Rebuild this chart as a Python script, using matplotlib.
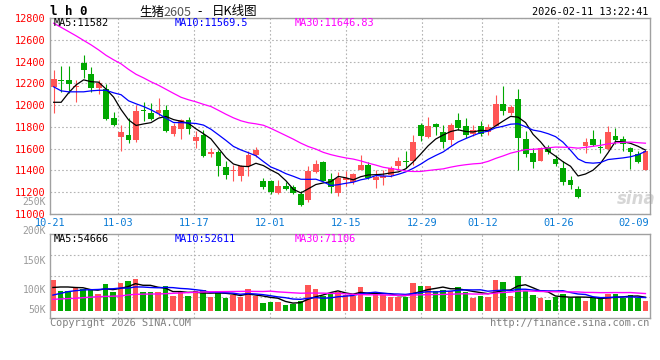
import numpy as np
import pandas as pd
import matplotlib
matplotlib.use("Agg")
import matplotlib.pyplot as plt

# ---- values (生猪2605, daily) ----
date_idx = [0, 9, 19, 29, 39, 49, 57, 67, 77]
date_labels = ["10-21", "11-03", "11-17", "12-01", "12-15", "12-29", "01-12", "01-26", "02-09"]

opens = [12165, 12232, 12232, 12165, 12391, 12287, 12156, 12147, 11886, 11703,
         11730, 11682, 11952, 11927, 11932, 11957, 11734, 11780, 11865, 11675,
         11730, 11555, 11565, 11431, 11396, 11351, 11437, 11538, 11299, 11306,
         11197, 11260, 11248, 11186, 11128, 11382, 11473, 11321, 11195, 11308,
         11296, 11406, 11452, 11308, 11327, 11361, 11443, 11484, 11483, 11813,
         11705, 11822, 11749, 11682, 11865, 11804, 11732, 11812, 11755, 11810,
         12012, 11932, 12058, 11691, 11560, 11483, 11615, 11507, 11427, 11308,
         11228, 11629, 11689, 11616, 11596, 11718, 11691, 11608, 11553, 11407]
highs = [12324, 12363, 12363, 12232, 12461, 12354, 12232, 12195, 11939, 11819,
         11883, 12003, 12030, 12021, 12061, 12003, 11833, 11874, 11895, 11764,
         11773, 11605, 11590, 11489, 11452, 11452, 11574, 11611, 11330, 11315,
         11310, 11290, 11269, 11214, 11443, 11498, 11483, 11376, 11382, 11395,
         11372, 11544, 11480, 11406, 11406, 11443, 11528, 11574, 11727, 11840,
         11895, 11840, 11819, 11840, 11929, 11881, 11815, 11856, 11826, 12094,
         12171, 12003, 12150, 11764, 11605, 11617, 11636, 11544, 11489, 11345,
         11260, 11697, 11767, 11688, 11810, 11789, 11712, 11613, 11583, 11583]
lows = [11932, 12125, 12110, 12024, 12253, 12116, 12101, 11859, 11810, 11583,
        11651, 11657, 11856, 11859, 11902, 11749, 11718, 11691, 11732, 11604,
        11521, 11523, 11351, 11324, 11299, 11299, 11351, 11526, 11229, 11183,
        11181, 11217, 11183, 11076, 11110, 11376, 11299, 11195, 11168, 11260,
        11273, 11400, 11324, 11237, 11269, 11339, 11406, 11422, 11452, 11666,
        11697, 11728, 11605, 11636, 11767, 11700, 11712, 11712, 11727, 11804,
        11911, 11911, 11400, 11526, 11425, 11483, 11549, 11437, 11269, 11232,
        11147, 11560, 11627, 11560, 11590, 11645, 11583, 11416, 11471, 11407]
closes = [12241, 12223, 12195, 12177, 12324, 12156, 12202, 11874, 11813, 11749,
          11682, 11948, 11944, 11872, 11957, 11758, 11804, 11865, 11780, 11703,
          11535, 11565, 11437, 11354, 11404, 11437, 11544, 11590, 11248, 11202,
          11260, 11229, 11193, 11085, 11391, 11455, 11303, 11250, 11327, 11327,
          11363, 11446, 11330, 11339, 11351, 11422, 11489, 11473, 11657, 11712,
          11804, 11796, 11657, 11819, 11789, 11728, 11773, 11732, 11801, 12012,
          11950, 11987, 11697, 11549, 11476, 11605, 11567, 11461, 11290, 11269,
          11159, 11657, 11636, 11607, 11749, 11682, 11642, 11565, 11473, 11574]
volumes = [125900, 80800, 80800, 95900, 87700, 87700, 68500, 109500, 77900, 114800,
           121800, 130000, 76700, 76700, 76700, 101300, 60300, 76700, 60300, 80800,
           84900, 57400, 80800, 53300, 64400, 54900, 89000, 60300, 32800, 36900,
           36900, 23400, 26200, 41000, 105400, 89000, 60300, 73800, 77900, 64400,
           61500, 98400, 57400, 71300, 64400, 57400, 57400, 57400, 114800, 101300,
           101300, 82000, 84900, 80800, 98400, 77900, 53300, 61500, 57400, 125900,
           118900, 61500, 143500, 82000, 64400, 53300, 43900, 57400, 68500, 53300,
           57400, 41000, 50800, 46700, 67200, 68500, 50800, 64400, 50800, 41000]

# moving-average values for the first bars (they use days before the window)
ma5_head = [12026, 12026, 12113, 12186]
ma10_head = [12168, 12131, 12122, 12122, 12122, 12131, 12136, 12136, 12113]
ma30_head = [12752, 12714, 12675, 12636, 12594, 12553, 12507, 12457, 12416, 12379,
             12328, 12283, 12250, 12214, 12182, 12145, 12108, 12072, 12049, 12030,
             12007, 11987, 11952, 11916, 11883, 11856, 11838, 11828, 11815]
vma5_head = [95100, 97200, 97200, 95100]
vma10_head = [64000, 71000, 78000, 82000, 85000, 86000, 87000, 89000, 90000]
vma30_head = [46700, 48000, 49600, 50800, 53300, 55400, 57400, 58600, 59500, 60300,
              64400, 67200, 67700, 68500, 68500, 69700, 71300, 72600, 74200, 75400,
              76700, 77500, 77900, 78300, 78700, 79100, 79500, 79100, 78700]

price_ma_text = ["MA5:11582", "MA10:11569.5", "MA30:11646.83"]
vol_ma_text = ["MA5:54666", "MA10:52611", "MA30:71106"]
price_ticks = list(range(11000, 12801, 200))
vol_axis_labels = ["250K", "200K", "150K", "100K", "50K"]

# ---- style ----
W, H = 660, 360
MONO = "DejaVu Sans Mono"
CJK = ["Noto Sans CJK SC", "DejaVu Sans"]
FS = 7.4
RED = "#ff5555"
GREEN = "#00a800"
MA_COLORS = ["#000000", "#0000ff", "#ff00ff"]
GRID = dict(color="#b4b4b4", linestyle=(0, (1.5, 2)), linewidth=0.8)
BAR_W = 0.78

plt.rcParams["font.family"] = [MONO]


def fx(px):
    return px / W


def fy(py):
    return 1 - py / H


def moving_avg(values, n, head):
    s = pd.Series(values, dtype=float).rolling(n).mean()
    s.iloc[:len(head)] = head
    return s.values


n = len(closes)
x = np.arange(n)
xc = x + BAR_W / 2
o = np.array(opens, float)
c = np.array(closes, float)
colors = [RED if cc >= oo else GREEN for oo, cc in zip(o, c)]

ma_price = [moving_avg(closes, 5, ma5_head),
            moving_avg(closes, 10, ma10_head),
            moving_avg(closes, 30, ma30_head)]
ma_vol = [moving_avg(volumes, 5, vma5_head),
          moving_avg(volumes, 10, vma10_head),
          moving_avg(volumes, 30, vma30_head)]

# gridline / label positions follow the chart's own date spacing
tick_x = np.array(date_idx) * n / (n - 1) - 0.1

fig = plt.figure(figsize=(W / 100, H / 100), dpi=100)
fig.patch.set_facecolor("white")

ax_p = fig.add_axes([fx(50), fy(214), 600 / W, 196 / H])
ax_v = fig.add_axes([fx(50), fy(317.7), 600 / W, 83.4 / H])

# ---- price panel ----
ax_p.set_xlim(0, n)
ax_p.set_ylim(11000, 12800)
ax_p.set_axisbelow(True)
ax_p.set_yticks(price_ticks)
ax_p.grid(axis="y", **GRID)
for t in tick_x[1:-1]:
    ax_p.axvline(t, zorder=0.5, **GRID)

ax_p.text((636 - 50) / 600, (214 - 199) / 196, "sina", transform=ax_p.transAxes,
          fontsize=12, fontstyle="italic", fontweight="bold", color="#d6d6d6",
          family="DejaVu Sans", ha="center", va="center", zorder=0.6)

ax_p.vlines(xc, lows, highs, colors=colors, linewidth=0.8, zorder=2)
body_h = np.maximum(np.abs(c - o), 9)
body_b = np.minimum(o, c) - (body_h - np.abs(c - o)) / 2
ax_p.bar(x, body_h, bottom=body_b, width=BAR_W, align="edge",
         color=colors, linewidth=0, zorder=3)
for vals, col in zip(ma_price, MA_COLORS):
    ax_p.plot(xc, vals, color=col, linewidth=0.9, zorder=4)

ax_p.set_xticks(tick_x)
ax_p.set_xticklabels(date_labels)
ax_p.tick_params(axis="x", length=0, pad=2.8, labelsize=FS, labelcolor="#0a7bd6")
ax_p.tick_params(axis="y", length=0, pad=3, labelsize=FS, labelcolor="#ff0000")

# ---- volume panel ----
ax_v.set_xlim(0, n)
ax_v.set_ylim(-28700, 313200)
for f in (0.25, 0.5, 0.75):
    ax_v.plot([0, 1], [f, f], transform=ax_v.transAxes, zorder=0.5, **GRID)
for t in tick_x[1:-1]:
    ax_v.axvline(t, zorder=0.5, **GRID)
ax_v.bar(x, volumes, width=BAR_W, align="edge", color=colors, linewidth=0, zorder=2)
for vals, col in zip(ma_vol, MA_COLORS):
    ax_v.plot(xc, vals, color=col, linewidth=1.0, zorder=3)
ax_v.set_xticks([])
ax_v.set_yticks([])

for ax in (ax_p, ax_v):
    for sp in ax.spines.values():
        sp.set_color("#a0a0a0")
        sp.set_linewidth(1.0)

# ---- texts ----
for label, px, col in zip(price_ma_text, (54, 175, 295), MA_COLORS):
    fig.text(fx(px), fy(23.5), label, color=col, fontsize=FS, ha="left", va="center")
for label, px, col in zip(vol_ma_text, (54, 175, 295), MA_COLORS):
    fig.text(fx(px), fy(238.5), label, color=col, fontsize=FS, ha="left", va="center")

for label, py in zip(vol_axis_labels, (202, 230.7, 261, 290, 310)):
    fig.text(fx(46), fy(py), label, color="#9a9a9a", fontsize=7.0, ha="right", va="center")

fig.text(fx(50), fy(11.5), "l h 0", fontsize=9, fontweight="bold", ha="left", va="center")
fig.text(fx(139), fy(12), "生猪", family=CJK, fontsize=9, ha="left", va="center")
fig.text(fx(163), fy(12), "2605", family=CJK, fontsize=9, color="#555555", ha="left", va="center")
fig.text(fx(199.5), fy(12), "-", family=CJK, fontsize=9, ha="center", va="center")
fig.text(fx(212), fy(12), "日K线图", family=CJK, fontsize=9, ha="left", va="center")
fig.text(fx(648), fy(12), "2026-02-11 13:22:41", fontsize=FS, ha="right", va="center")

fig.text(fx(50), fy(323.5), "Copyright 2026 SINA.COM", color="#808080",
         fontsize=FS, ha="left", va="center")
fig.text(fx(649), fy(323.5), "http://finance.sina.com.cn", color="#808080",
         fontsize=FS, ha="right", va="center")

fig.savefig("out.png", dpi=100)
